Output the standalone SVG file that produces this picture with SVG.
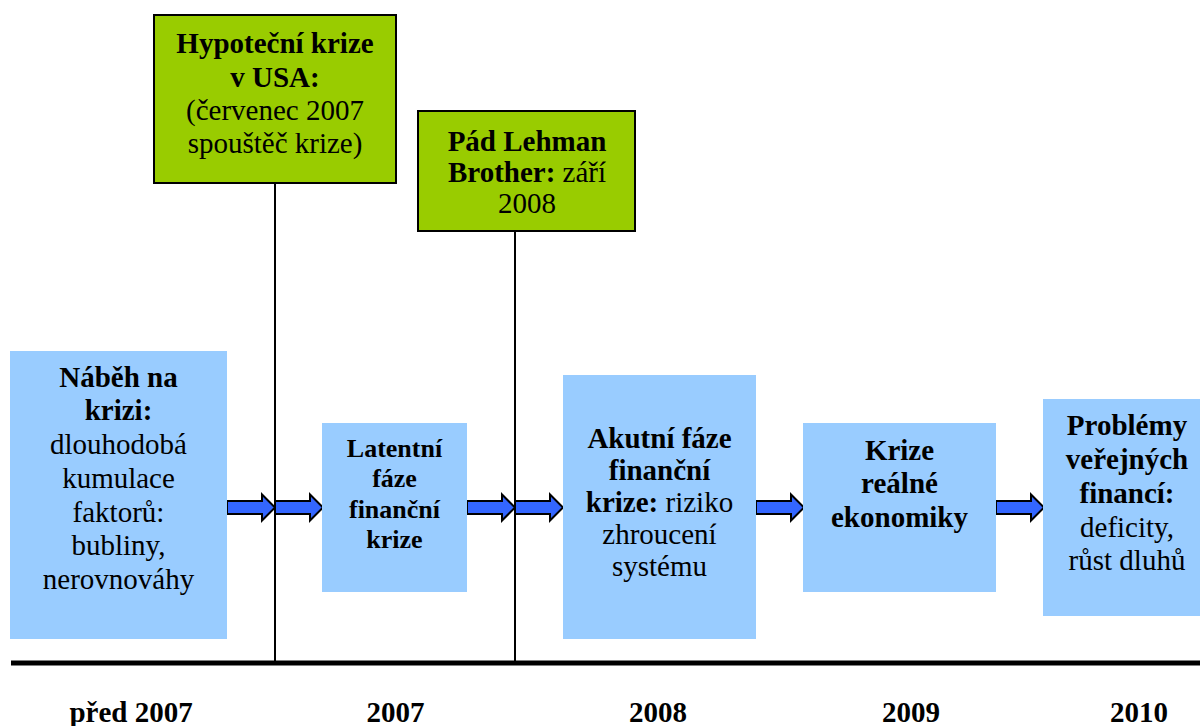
<svg xmlns="http://www.w3.org/2000/svg" width="1200" height="726" viewBox="0 0 1200 726">
<style>
text{font-family:'Liberation Serif',Tinos,'Times New Roman',Times,'DejaVu Serif',serif;font-size:29px;fill:#000;text-anchor:middle}
.b{font-weight:bold}
.s{font-size:26px}
.phase{fill:#99CCFF}
.event{fill:#99CC00;stroke:#000;stroke-width:2}
.arr{fill:#3366FF;stroke:#000;stroke-width:2;stroke-linejoin:miter}
.vl{stroke:#000;stroke-width:2}
</style>
<defs>
<path id="arrow" class="arr" d="M0,-6.5 H35 V-13 L48,0 L35,13 V6.5 H0 Z"/>
</defs>
<g id="timeline">
<line x1="11" y1="663" x2="1200" y2="663" stroke="#000" stroke-width="5"/>
</g>
<g id="connectors">
<line class="vl" x1="275" y1="183" x2="275" y2="662"/>
<line class="vl" x1="515" y1="231" x2="515" y2="662"/>
<use href="#arrow" x="227" y="507.5"/>
<use href="#arrow" x="275" y="507.5"/>
<use href="#arrow" x="467" y="507.5"/>
<use href="#arrow" x="515" y="507.5"/>
<use href="#arrow" x="756" y="507.5"/>
<use href="#arrow" x="996" y="507.5"/>
</g>
<g id="node-nabeh">
<rect class="phase" x="10" y="351" width="217" height="288"/>
<text x="118.5" y="387" class="b">Náběh na</text>
<text x="118.5" y="420" class="b">krizi:</text>
<text x="118.5" y="454">dlouhodobá</text>
<text x="118.5" y="488">kumulace</text>
<text x="118.5" y="522">faktorů:</text>
<text x="118.5" y="555">bubliny,</text>
<text x="118.5" y="589">nerovnováhy</text>
</g>
<g id="node-latentni">
<rect class="phase" x="322" y="423" width="145" height="169"/>
<text x="394.5" y="457" class="b s">Latentní</text>
<text x="394.5" y="487" class="b s">fáze</text>
<text x="394.5" y="518" class="b s">finanční</text>
<text x="394.5" y="548" class="b s">krize</text>
</g>
<g id="node-akutni">
<rect class="phase" x="563" y="375" width="193" height="264"/>
<text x="659.5" y="448" class="b">Akutní fáze</text>
<text x="659.5" y="480" class="b">finanční</text>
<text x="659.5" y="512"><tspan class="b">krize:</tspan> riziko</text>
<text x="659.5" y="544">zhroucení</text>
<text x="659.5" y="576">systému</text>
</g>
<g id="node-realna">
<rect class="phase" x="803" y="423" width="193" height="169"/>
<text x="899.5" y="460" class="b">Krize</text>
<text x="899.5" y="493" class="b">reálné</text>
<text x="899.5" y="527" class="b">ekonomiky</text>
</g>
<g id="node-verejne">
<rect class="phase" x="1043" y="399" width="170" height="217"/>
<text x="1127" y="435" class="b">Problémy</text>
<text x="1127" y="469" class="b">veřejných</text>
<text x="1127" y="503" class="b">financí:</text>
<text x="1127" y="537">deficity,</text>
<text x="1127" y="570">růst dluhů</text>
</g>
<g id="node-hypotecni">
<rect class="event" x="154" y="15" width="242" height="168"/>
<text x="275" y="53" class="b">Hypoteční krize</text>
<text x="275" y="87" class="b">v USA:</text>
<text x="275" y="120">(červenec 2007</text>
<text x="275" y="153">spouštěč krize)</text>
</g>
<g id="node-lehman">
<rect class="event" x="418" y="111" width="217" height="120"/>
<text x="527" y="151" class="b">Pád Lehman</text>
<text x="527" y="182"><tspan class="b">Brother:</tspan> září</text>
<text x="527" y="213">2008</text>
</g>
<g id="years">
<text x="131" y="722" class="b">před 2007</text>
<text x="395.5" y="722" class="b">2007</text>
<text x="658" y="722" class="b">2008</text>
<text x="911" y="722" class="b">2009</text>
<text x="1139" y="722" class="b">2010</text>
</g>
</svg>
